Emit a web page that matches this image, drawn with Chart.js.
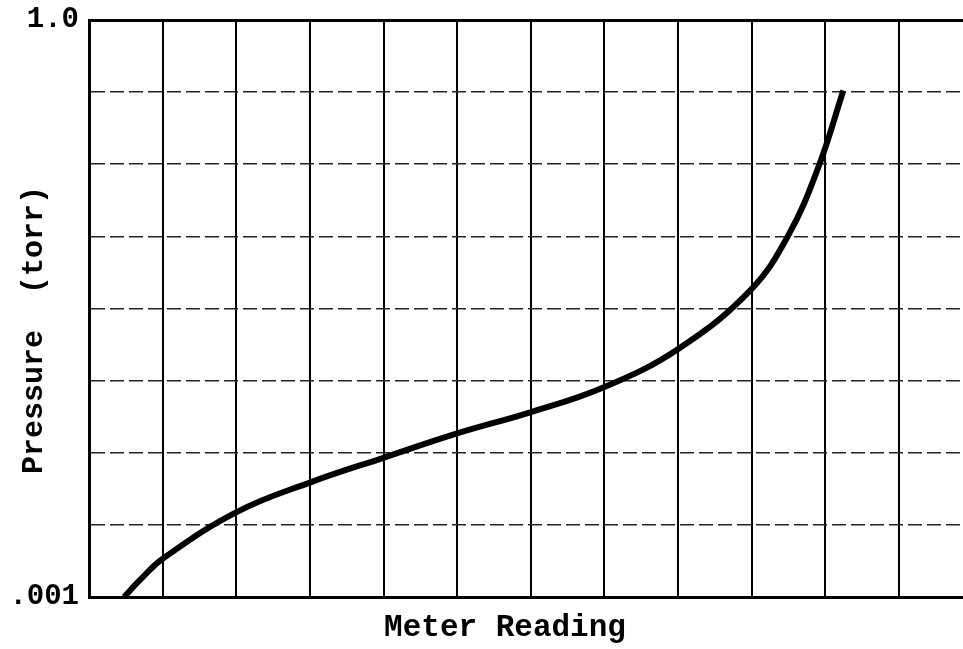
<!DOCTYPE html>
<html>
<head>
<meta charset="utf-8">
<script src="https://cdn.jsdelivr.net/npm/chart.js@4/dist/chart.umd.min.js"></script>
<style>
  html, body { margin: 0; padding: 0; background: #fff; }
  #wrap { width: 963px; height: 649px; }
</style>
</head>
<body>
<div id="wrap"><canvas id="myChart"></canvas></div>
<script>
const ctx = document.getElementById('myChart');

// curve: x in grid divisions, y in torr
const meterReading = [0.476, 0.693, 1.005, 2.011, 3.026, 4.008, 5.0, 5.992, 6.984, 8.003, 8.981, 9.497, 9.905, 10.245];
const pressure = [0.001, 0.001226, 0.001586, 0.002772, 0.00397, 0.00531, 0.00709, 0.00912, 0.01228, 0.0195, 0.0393, 0.0759, 0.1714, 0.43];

const xGrid = [0, 1, 2, 3, 4, 5, 6, 7, 8, 9, 10, 11];
const yGridSteps = [0, 1, 2, 3, 4, 5, 6, 7, 8];
const yTickLabels = ['.001', '', '', '', '', '', '', '', '1.0'];

const ink = '#000';
const mono = '"Liberation Mono", "DejaVu Sans Mono", monospace';

const axisTitles = {
    id: 'axisTitles',
    afterDraw(chart) {
        const c = chart.ctx;
        const area = chart.chartArea;
        c.save();
        c.fillStyle = ink;
        c.font = 'bold 31px ' + mono;
        c.textAlign = 'center';
        c.textBaseline = 'middle';
        c.fillText('Meter Reading', area.left + 416, area.bottom + 31);
        c.font = 'bold 30px ' + mono;
        c.translate(34, area.top + 310);
        c.rotate(-Math.PI / 2);
        c.fillText('Pressure  (torr)', 0, 0);
        c.restore();
    }
};

const data = {
    datasets: [{
        data: meterReading.map((x, i) => ({ x: x, y: pressure[i] })),
        borderColor: ink,
        borderWidth: 6,
        pointRadius: 0,
        tension: 0.4,
        fill: false
    }]
};

const config = {
    type: 'line',
    data: data,
    options: {
        responsive: true,
        maintainAspectRatio: false,
        animation: false,
        layout: { padding: { left: 10, top: 20, right: 0, bottom: 52 } },
        plugins: {
            legend: { display: false },
            tooltip: { enabled: false }
        },
        scales: {
            x: {
                type: 'linear',
                min: 0,
                max: 11.87,
                afterBuildTicks: (scale) => {
                    scale.ticks = xGrid.map(v => ({ value: v }));
                },
                ticks: { display: false },
                grid: {
                    color: ink,
                    drawTicks: false,
                    lineWidth: (c) => c.index === 0 ? 3 : 2
                },
                border: { display: true, color: ink, width: 3 }
            },
            y: {
                type: 'logarithmic',
                min: 0.001,
                max: 1,
                afterBuildTicks: (scale) => {
                    scale.ticks = yGridSteps.map(k => ({ value: Math.pow(10, -3 + 3 * k / 8) }));
                },
                afterFit: (scale) => {
                    scale.width = 79;
                    scale.paddingTop = 0;
                    scale.paddingBottom = 0;
                },
                ticks: {
                    color: ink,
                    padding: 10,
                    autoSkip: false,
                    font: { family: mono, size: 29, weight: 'bold' },
                    callback: (value, index) => yTickLabels[index]
                },
                grid: {
                    color: (c) => (c.index === 0 || c.index === 8) ? ink : '#222',
                    drawTicks: false,
                    lineWidth: (c) => (c.index === 0 || c.index === 8) ? 3 : 1.6
                },
                border: {
                    display: true,
                    color: ink,
                    width: 3,
                    dash: (c) => (c.type === 'tick' && c.index > 0 && c.index < 8) ? [14, 5] : []
                }
            }
        }
    },
    plugins: [axisTitles]
};

const chart = new Chart(ctx, config);
</script>
</body>
</html>
